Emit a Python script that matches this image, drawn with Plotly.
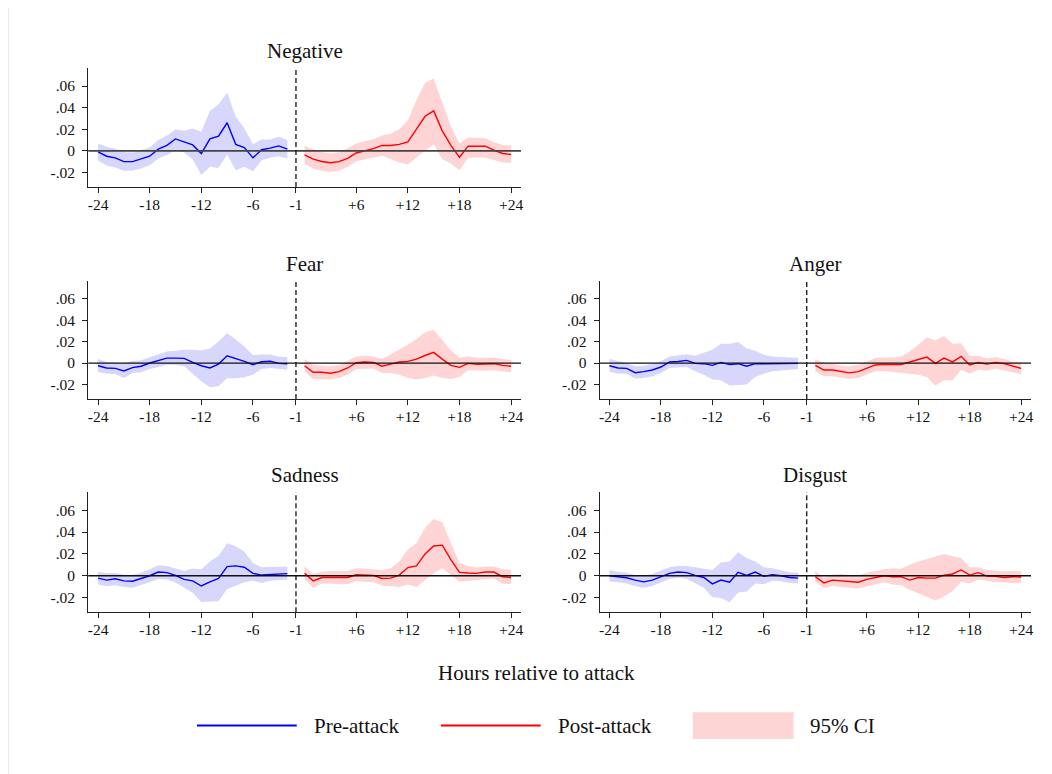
import plotly.graph_objects as go

W, H = 1052, 774
OFF = 8  # page offset of the plot div inside the browser window

hours_pre = list(range(-24, -1))   # -24 .. -2
hours_post = list(range(0, 25))    # 0 .. 24

tick_vals = [-24, -18, -12, -6, -1, 6, 12, 18, 24]
tick_text = ['-24', '-18', '-12', '-6', '-1', '+6', '+12', '+18', '+24']
ytick_vals = [-0.02, 0, 0.02, 0.04, 0.06]
ytick_text = ['-.02', '0', '.02', '.04', '.06']

panel_names = ['Negative', 'Fear', 'Anger', 'Sadness', 'Disgust']

# ---- Negative ----
neg_pre = [-0.001, -0.005, -0.0065, -0.010, -0.010, -0.0077, -0.005, 0.0015, 0.005, 0.011, 0.008, 0.0055,
           -0.0025, 0.011, 0.0135, 0.026, 0.006, 0.003, -0.0065, 0.001, 0.0025, 0.0046, 0.0015]
neg_pre_hi = [0.0068, 0.0037, 0.002, -0.001, -0.0015, 0.001, 0.003, 0.010, 0.014, 0.020, 0.0185, 0.0207,
              0.0176, 0.037, 0.043, 0.054, 0.0315, 0.021, 0.006, 0.0105, 0.0105, 0.013, 0.010]
neg_pre_lo = [-0.0093, -0.0136, -0.0155, -0.0185, -0.0185, -0.0164, -0.0133, -0.007, -0.004, 0.001, -0.0015,
              -0.008, -0.0225, -0.0148, -0.0158, -0.0034, -0.018, -0.0148, -0.019, -0.0087, -0.0065, -0.005, -0.007]
neg_post = [-0.0037, -0.0077, -0.0099, -0.011, -0.010, -0.007, -0.002, 0.0, 0.002, 0.005, 0.005, 0.006, 0.0083,
            0.020, 0.032, 0.037, 0.0185, 0.005, -0.006, 0.0043, 0.0043, 0.0043, 0.0006, -0.0025, -0.0034]
neg_post_hi = [0.0043, 0.0015, -0.0012, -0.0025, -0.001, 0.0025, 0.0068, 0.009, 0.0108, 0.0142, 0.0158, 0.020,
               0.0284, 0.047, 0.063, 0.067, 0.044, 0.0222, 0.0068, 0.0124, 0.012, 0.0117, 0.008, 0.0053, 0.005]
neg_post_lo = [-0.0117, -0.0164, -0.0185, -0.0195, -0.0185, -0.0148, -0.0096, -0.008, -0.0062, -0.0046, -0.008,
               -0.0108, -0.0127, -0.0062, 0.0, 0.0062, -0.0077, -0.0117, -0.018, -0.0065, -0.0062, -0.0062,
               -0.0087, -0.0108, -0.011]

# ---- Fear ----
fear_pre = [-0.0025, -0.0046, -0.005, -0.0074, -0.0043, -0.003, 0.0, 0.002, 0.0046, 0.0046, 0.0043, 0.0006,
            -0.0025, -0.0046, -0.001, 0.0068, 0.0043, 0.0015, -0.0015, 0.0012, 0.0018, -0.0003, -0.0006]
fear_pre_hi = [0.0037, 0.001, 0.0006, 0.0, 0.0018, 0.0025, 0.0055, 0.0083, 0.0108, 0.0114, 0.0123, 0.0123,
               0.012, 0.0135, 0.020, 0.0277, 0.022, 0.0154, 0.0074, 0.008, 0.008, 0.0058, 0.0055]
fear_pre_lo = [-0.0083, -0.0099, -0.0102, -0.0139, -0.0095, -0.0086, -0.0055, -0.004, -0.0015, -0.0018, -0.003,
               -0.0099, -0.017, -0.0225, -0.0216, -0.0142, -0.0142, -0.0132, -0.0108, -0.0055, -0.0046, -0.0055,
               -0.0062]
fear_post = [-0.0025, -0.0086, -0.0086, -0.0095, -0.008, -0.0046, 0.0003, 0.001, 0.0006, -0.003, -0.001, 0.001,
             0.0015, 0.0037, 0.007, 0.0099, 0.0037, -0.0022, -0.004, -0.0003, -0.0012, -0.0012, -0.0006,
             -0.0022, -0.003]
fear_post_hi = [0.0037, -0.0015, -0.0025, -0.003, -0.0018, 0.0025, 0.0062, 0.0068, 0.0062, 0.0037, 0.0083,
                0.013, 0.017, 0.0225, 0.0286, 0.031, 0.0216, 0.0117, 0.0052, 0.0062, 0.005, 0.005, 0.005,
                0.0037, 0.003]
fear_post_lo = [-0.008, -0.0148, -0.0148, -0.0154, -0.0139, -0.0108, -0.0055, -0.0052, -0.005, -0.0092, -0.0092,
                -0.0108, -0.0139, -0.0154, -0.0139, -0.0117, -0.0139, -0.0148, -0.013, -0.0068, -0.0071,
                -0.0071, -0.0068, -0.008, -0.0086]

# ---- Anger ----
anger_pre = [-0.0025, -0.0046, -0.005, -0.009, -0.008, -0.0065, -0.0037, 0.001, 0.0015, 0.0025, -0.0003,
             -0.0006, -0.0022, 0.0006, -0.0015, -0.0006, -0.003, -0.0006, -0.0006, -0.0006, -0.0006, -0.0003,
             -0.0003]
anger_pre_hi = [0.0037, 0.0015, 0.0, -0.003, -0.0025, -0.001, 0.002, 0.006, 0.007, 0.0083, 0.0068, 0.0099,
                0.0123, 0.018, 0.018, 0.0197, 0.0135, 0.0114, 0.0077, 0.0062, 0.0055, 0.0052, 0.005]
anger_pre_lo = [-0.008, -0.0099, -0.0099, -0.0145, -0.0139, -0.0123, -0.0092, -0.0046, -0.004, -0.0037,
                -0.0077, -0.0108, -0.0154, -0.016, -0.021, -0.0203, -0.020, -0.013, -0.0099, -0.0077, -0.0068,
                -0.0062, -0.0055]
anger_post = [-0.0022, -0.0065, -0.0065, -0.0077, -0.0092, -0.008, -0.0046, -0.0018, -0.0012, -0.0012,
              -0.0015, 0.001, 0.003, 0.0055, -0.0003, 0.0046, 0.001, 0.0062, -0.0018, 0.0006, -0.001, 0.0006,
              -0.0006, -0.003, -0.005]
anger_post_hi = [0.0037, 0.0, -0.0006, -0.0025, -0.003, -0.0015, 0.0015, 0.0046, 0.0052, 0.0052, 0.0062,
                 0.0108, 0.017, 0.024, 0.021, 0.0253, 0.018, 0.0185, 0.0068, 0.0068, 0.0043, 0.0055, 0.004,
                 0.0015, 0.0006]
anger_post_lo = [-0.0077, -0.0123, -0.0123, -0.0132, -0.0148, -0.0139, -0.0108, -0.0077, -0.0074, -0.0077,
                 -0.0092, -0.0099, -0.0108, -0.013, -0.021, -0.016, -0.0163, -0.0062, -0.0099, -0.0062,
                 -0.0071, -0.0052, -0.0068, -0.0086, -0.0105]

# ---- Sadness ----
sad_pre = [-0.0022, -0.004, -0.0028, -0.0047, -0.005, -0.0025, 0.0, 0.0034, 0.0028, 0.0003, -0.0034, -0.0047,
           -0.0094, -0.0056, -0.0025, 0.0084, 0.009, 0.0078, 0.0022, 0.0006, 0.0012, 0.0012, 0.0019]
sad_pre_hi = [0.0037, 0.0022, 0.0025, 0.0009, 0.0006, 0.0028, 0.006, 0.0097, 0.009, 0.0069, 0.0044, 0.0066,
              0.006, 0.013, 0.0184, 0.0297, 0.027, 0.022, 0.0116, 0.0078, 0.0078, 0.0078, 0.0084]
sad_pre_lo = [-0.0081, -0.0097, -0.0088, -0.0103, -0.011, -0.0088, -0.0059, -0.0031, -0.0034, -0.0063,
              -0.0113, -0.0156, -0.024, -0.024, -0.0234, -0.0122, -0.0088, -0.0059, -0.0047, -0.0066, -0.0047,
              -0.004, -0.0034]
sad_post = [0.0022, -0.0047, -0.0016, -0.0016, -0.0019, -0.0016, 0.0009, 0.0006, 0.0003, -0.0025, -0.0022,
            0.0006, 0.0075, 0.009, 0.020, 0.0272, 0.028, 0.0147, 0.0031, 0.0025, 0.0022, 0.0034, 0.0034,
            -0.0009, -0.0016]
sad_post_hi = [0.0084, 0.0016, 0.0037, 0.0044, 0.0044, 0.0044, 0.0069, 0.0066, 0.006, 0.0047, 0.0069, 0.013,
               0.024, 0.0297, 0.044, 0.052, 0.049, 0.030, 0.0116, 0.009, 0.0075, 0.0084, 0.0084, 0.006, 0.0053]
sad_post_lo = [-0.0034, -0.011, -0.0072, -0.0072, -0.0078, -0.0075, -0.005, -0.0053, -0.0059, -0.009, -0.0097,
               -0.0103, -0.0081, -0.0103, -0.004, 0.0022, 0.0069, 0.0006, -0.0056, -0.0047, -0.004, -0.0031,
               -0.0025, -0.0072, -0.0078]

# ---- Disgust ----
dis_pre = [0.0, -0.0009, -0.0019, -0.004, -0.0056, -0.004, -0.0009, 0.0022, 0.0034, 0.0028, 0.0003, -0.0016,
           -0.0075, -0.004, -0.0059, 0.0031, 0.0003, 0.0034, -0.0006, 0.0009, 0.0, -0.0016, -0.0022]
dis_pre_hi = [0.0053, 0.0037, 0.0028, 0.0006, -0.0003, 0.0016, 0.0047, 0.0078, 0.009, 0.0088, 0.0078, 0.0069,
              0.0053, 0.0122, 0.0131, 0.0216, 0.0163, 0.0131, 0.0078, 0.0069, 0.0053, 0.0031, 0.0028]
dis_pre_lo = [-0.0053, -0.0059, -0.0072, -0.0097, -0.011, -0.0094, -0.0063, -0.0031, -0.0019, -0.0028, -0.0066,
              -0.011, -0.0197, -0.0203, -0.0244, -0.0153, -0.0144, -0.0072, -0.0078, -0.0047, -0.005, -0.0066,
              -0.0072]
dis_post = [-0.0009, -0.0066, -0.004, -0.0047, -0.0053, -0.0059, -0.0034, -0.0019, 0.0, -0.0009, -0.0009,
            -0.004, -0.0016, -0.0022, -0.0022, 0.0006, 0.0016, 0.0053, 0.0006, 0.0028, -0.0003, -0.0006,
            -0.0016, -0.0009, -0.0012]
dis_post_hi = [0.004, -0.0016, 0.0012, 0.0016, 0.0006, 0.0003, 0.0028, 0.0047, 0.006, 0.0069, 0.0063, 0.01,
               0.0131, 0.0153, 0.0178, 0.020, 0.0178, 0.0163, 0.0078, 0.0078, 0.0053, 0.0044, 0.004, 0.0044,
               0.0044]
dis_post_lo = [-0.0059, -0.0113, -0.0094, -0.0103, -0.011, -0.0116, -0.0094, -0.0078, -0.0059, -0.0081,
               -0.0088, -0.0128, -0.016, -0.0197, -0.0228, -0.019, -0.014, -0.0056, -0.0072, -0.0034, -0.0047,
               -0.0059, -0.0059, -0.0066, -0.0063]

panel_data = {
    'Negative': (neg_pre, neg_pre_lo, neg_pre_hi, neg_post, neg_post_lo, neg_post_hi),
    'Fear': (fear_pre, fear_pre_lo, fear_pre_hi, fear_post, fear_post_lo, fear_post_hi),
    'Anger': (anger_pre, anger_pre_lo, anger_pre_hi, anger_post, anger_post_lo, anger_post_hi),
    'Sadness': (sad_pre, sad_pre_lo, sad_pre_hi, sad_post, sad_post_lo, sad_post_hi),
    'Disgust': (dis_pre, dis_pre_lo, dis_pre_hi, dis_post, dis_post_lo, dis_post_hi),
}

# ---- layout geometry (screen pixels -> paper coords) ----
def px(x):
    return (x - OFF) / W

def py(y):
    return 1 - (y - OFF) / H

col_x = {0: (88.3, 522.0), 1: (600.7, 1033.0)}
row_y = {0: (68.0, 187.0), 1: (280.7, 399.0), 2: (492.0, 612.3)}
panel_pos = {'Negative': (0, 0), 'Fear': (1, 0), 'Anger': (1, 1), 'Sadness': (2, 0), 'Disgust': (2, 1)}

FONT = 'Liberation Serif, Times New Roman, serif'
BLUE = '#0000FF'
RED = '#FF0000'
BLUE_CI = 'rgba(40,40,240,0.19)'
RED_CI = 'rgba(250,60,60,0.22)'
XR = [-25.15, 25.15]
YR = [-0.0335, 0.0767]

fig = go.Figure()
shapes = []
annotations = []
layout_axes = {}

for i, name in enumerate(panel_names, start=1):
    r, c = panel_pos[name]
    x0p, x1p = col_x[c]
    y0p, y1p = row_y[r]
    xa = 'x' if i == 1 else f'x{i}'
    ya = 'y' if i == 1 else f'y{i}'
    pre, pre_lo, pre_hi, post, post_lo, post_hi = panel_data[name]

    fig.add_trace(go.Scatter(x=hours_pre + hours_pre[::-1], y=pre_hi + pre_lo[::-1], fill='toself',
                             fillcolor=BLUE_CI, line=dict(width=0), mode='lines', hoverinfo='skip',
                             showlegend=False, xaxis=xa, yaxis=ya))
    fig.add_trace(go.Scatter(x=hours_post + hours_post[::-1], y=post_hi + post_lo[::-1], fill='toself',
                             fillcolor=RED_CI, line=dict(width=0), mode='lines', hoverinfo='skip',
                             showlegend=False, xaxis=xa, yaxis=ya))
    fig.add_trace(go.Scatter(x=hours_pre, y=pre, mode='lines', line=dict(color=BLUE, width=1.4),
                             name='Pre-attack', showlegend=False, xaxis=xa, yaxis=ya))
    fig.add_trace(go.Scatter(x=hours_post, y=post, mode='lines', line=dict(color=RED, width=1.4),
                             name='Post-attack', showlegend=False, xaxis=xa, yaxis=ya))

    ax_common = dict(showline=True, linecolor='#222', linewidth=1, ticks='outside', ticklen=5,
                     tickcolor='#222', tickwidth=1, showgrid=False, zeroline=False,
                     tickfont=dict(family=FONT, size=15.5, color='#111'), fixedrange=True)
    layout_axes['xaxis' if i == 1 else f'xaxis{i}'] = dict(
        domain=[px(x0p), px(x1p)], anchor=ya, range=XR, tickmode='array', tickvals=tick_vals,
        ticktext=tick_text, ticklabelstandoff=-2, **ax_common)
    layout_axes['yaxis' if i == 1 else f'yaxis{i}'] = dict(
        domain=[py(y1p), py(y0p)], anchor=xa, range=YR, tickmode='array', tickvals=ytick_vals,
        ticktext=ytick_text, ticklabelstandoff=4, **ax_common)

    xref = xa
    yref = ya
    # zero line
    shapes.append(dict(type='line', xref=xref, yref=yref, x0=XR[0], x1=XR[1], y0=0, y1=0,
                       line=dict(color='#111' if name != 'Negative' else '#444',
                                 width=1.3 if name != 'Negative' else 1.8), layer='above'))
    # attack marker
    shapes.append(dict(type='line', xref=xref, yref=f'{ya} domain', x0=-1, x1=-1, y0=0, y1=1,
                       line=dict(color='#111', width=1.3, dash='5px,3px'), layer='above'))
    # panel title
    annotations.append(dict(text=name, xref='paper', yref='paper', x=px((x0p + x1p) / 2),
                            y=py(y0p - 3), xanchor='center', yanchor='bottom', showarrow=False,
                            font=dict(family=FONT, size=21, color='#111')))

# common x title
annotations.append(dict(text='Hours relative to attack', xref='paper', yref='paper', x=px(537.8), y=py(673),
                        xanchor='center', yanchor='middle', showarrow=False,
                        font=dict(family=FONT, size=21, color='#111')))

# legend (manual)
leg_y = 725.5
shapes.append(dict(type='line', xref='paper', yref='paper', x0=px(197.3), x1=px(297.3), y0=py(leg_y),
                   y1=py(leg_y), line=dict(color=BLUE, width=2.2)))
shapes.append(dict(type='line', xref='paper', yref='paper', x0=px(441.7), x1=px(541.7), y0=py(leg_y),
                   y1=py(leg_y), line=dict(color=RED, width=2.2)))
shapes.append(dict(type='rect', xref='paper', yref='paper', x0=px(694), x1=px(795), y0=py(739), y1=py(712.3),
                   fillcolor='#FDD5D5', line=dict(width=0)))
for txt, xl in [('Pre-attack', 313), ('Post-attack', 556.7), ('95% CI', 809.7)]:
    annotations.append(dict(text=txt, xref='paper', yref='paper', x=px(xl), y=py(leg_y), xanchor='left',
                            yanchor='middle', showarrow=False, font=dict(family=FONT, size=21, color='#111')))

# faint frame line on the left edge
shapes.append(dict(type='line', xref='paper', yref='paper', x0=px(8.5), x1=px(8.5), y0=0, y1=1,
                   line=dict(color='#EAEAEA', width=1)))

fig.update_layout(width=W, height=H, margin=dict(l=0, r=0, t=0, b=0), paper_bgcolor='white',
                  plot_bgcolor='white', showlegend=False, shapes=shapes, annotations=annotations,
                  **layout_axes)

fig.write_html('out.html')
